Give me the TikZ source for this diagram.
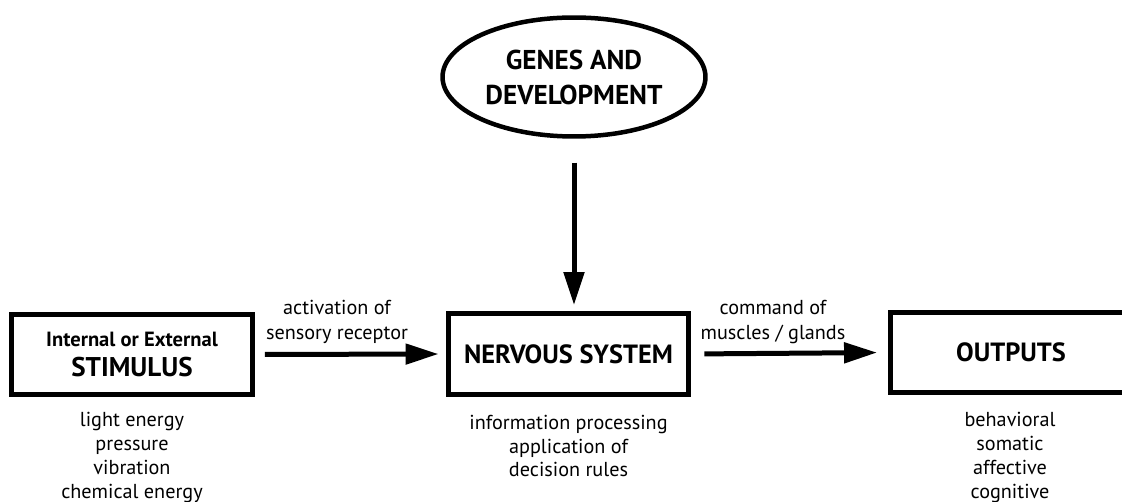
\documentclass[tikz,border=0pt]{standalone}
\usepackage{fontspec}
\setmainfont{PT Sans}
\usetikzlibrary{arrows.meta,shapes.geometric}

\tikzstyle{block}=[rectangle,draw=black,line width=0.1cm,align=center,minimum width=4.82cm,minimum height=1.62cm,inner sep=0pt,font=\fontsize{15}{17.6}\selectfont\bfseries]
\tikzstyle{blob}=[ellipse,draw=black,line width=0.09cm,align=center,minimum width=5.26cm,minimum height=2.38cm,inner sep=0pt,font=\fontsize{15.5}{19.9}\selectfont\bfseries]
\tikzstyle{note}=[align=center,font=\fontsize{11.5}{14.2}\selectfont,inner sep=0pt]
\tikzstyle{list}=[align=center,font=\fontsize{11.5}{13.6}\selectfont,inner sep=0pt]
\tikzstyle{arrow}=[line width=0.1cm,-{Triangle[length=0.66cm,width=0.4cm]}]

\begin{document}
\begin{tikzpicture}[x=0.02cm,y=-0.02cm]
	\clip (0,0) rectangle (1122,502);

	% Boxes
	\node[block] (stim) at (132,354.5) {{\fontsize{11.7}{13}\selectfont Internal or External}\\{\fontsize{15.4}{17.6}\selectfont STIMULUS}};
	\node[block] (nerv) at (568.5,354) {NERVOUS SYSTEM};
	\node[block] (outp) at (1011,352.5) {OUTPUTS};
	\node[blob] (genes) at (574,77) {GENES AND\\DEVELOPMENT};

	% Arrows
	\draw[arrow,shorten <=0.2cm,shorten >=0.14cm] (stim.east) -- (nerv.west);
	\draw[arrow,shorten <=0.26cm,shorten >=0.22cm] (nerv.east) -- (outp.west);
	\draw[arrow,shorten <=0.48cm,shorten >=0.12cm] (genes.south) -- (genes.south |- nerv.north);

	% Arrow labels
	\node[note] (actlbl) at (337,322) {activation of\\sensory receptor};
	\node[note] (cmdlbl) at (773,322) {command of\\muscles / glands};

	% Lists
	\node[list] (stimlist) at (132,457.5) {light energy\\pressure\\vibration\\chemical energy};
	\node[list] (nervlist) at (568.5,446) {information processing\\application of\\decision rules};
	\node[list] (outplist) at (1010,457.5) {behavioral\\somatic\\affective\\cognitive};
\end{tikzpicture}
\end{document}
